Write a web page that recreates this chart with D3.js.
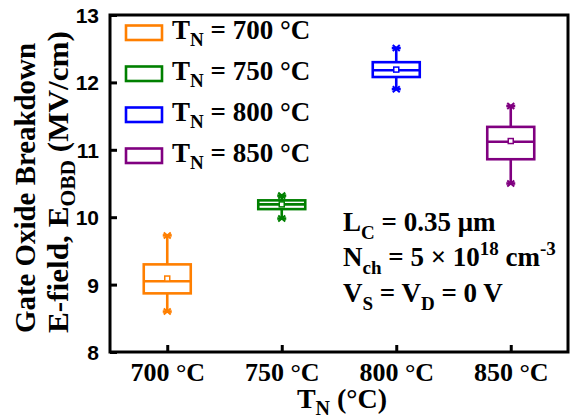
<!DOCTYPE html>
<html>
<head>
<meta charset="utf-8">
<script src="https://cdn.jsdelivr.net/npm/d3@7/dist/d3.min.js"></script>
<style>
  html, body { margin: 0; padding: 0; background: #fff; }
  svg { display: block; }
  .serif { font-family: "Liberation Serif", "Times New Roman", serif; font-weight: bold; fill: #000; }
  .sans { font-family: "Liberation Sans", Arial, sans-serif; font-weight: bold; fill: #000; }
</style>
</head>
<body>
<svg id="chart" width="572" height="418"></svg>
<script>
// Annealing temperatures (x categories)
const categories = ["700 °C", "750 °C", "800 °C", "850 °C"];
const legendTemps = ["700 °C", "750 °C", "800 °C", "850 °C"];
const colors = ["#ff7f00", "#008000", "#0000ff", "#800080"];

// Box statistics of gate-oxide breakdown field (MV/cm)
const whiskerLow  = [8.60, 9.98, 11.90, 10.50];
const q1          = [8.87, 10.12, 12.08, 10.86];
const median      = [9.05, 10.19, 12.18, 11.12];
const q3          = [9.30, 10.25, 12.30, 11.34];
const whiskerHigh = [9.73, 10.32, 12.51, 11.65];
const means       = [9.09, 10.19, 12.19, 11.13];

const yTicks = [8, 9, 10, 11, 12, 13];

const svg = d3.select("#chart");
const plot = { left: 110, right: 568, top: 15, bottom: 352 };

const x = d3.scalePoint().domain(categories).range([plot.left, plot.right]).padding(0.5);
const y = d3.scaleLinear().domain([8, 13]).range([plot.bottom, plot.top]);

const boxW = 47;
const capW = 9;

// Boxes
const data = categories.map((c, i) => ({
  c, color: colors[i], lo: whiskerLow[i], q1: q1[i], med: median[i], q3: q3[i], hi: whiskerHigh[i], mean: means[i]
}));

const g = svg.append("g");
data.forEach(d => {
  const cx = x(d.c);
  const s = g.append("g").attr("stroke", d.color).attr("fill", "none").attr("stroke-width", 2.6);
  // whiskers
  s.append("line").attr("x1", cx).attr("x2", cx).attr("y1", y(d.q3)).attr("y2", y(d.hi));
  s.append("line").attr("x1", cx).attr("x2", cx).attr("y1", y(d.q1)).attr("y2", y(d.lo));
  // whisker caps: short bar with a cross marker
  [d.lo, d.hi].forEach(v => {
    const yy = y(v);
    s.append("line").attr("x1", cx - capW / 2).attr("x2", cx + capW / 2).attr("y1", yy).attr("y2", yy).attr("stroke-width", 2.6);
    s.append("path")
      .attr("d", `M${cx - 3.5},${yy - 3}L${cx + 3.5},${yy + 3}M${cx - 3.5},${yy + 3}L${cx + 3.5},${yy - 3}`)
      .attr("stroke-width", 2);
  });
  // box
  s.append("rect")
    .attr("x", cx - boxW / 2).attr("width", boxW)
    .attr("y", y(d.q3)).attr("height", y(d.q1) - y(d.q3));
  // median
  s.append("line").attr("x1", cx - boxW / 2).attr("x2", cx + boxW / 2)
    .attr("y1", y(d.med)).attr("y2", y(d.med));
  // mean marker
  s.append("rect").attr("x", cx - 2.5).attr("y", y(d.mean) - 2.5).attr("width", 5).attr("height", 5)
    .attr("stroke-width", 1.5).attr("fill", "#fff");
});

// Frame
svg.append("rect")
  .attr("x", plot.left).attr("y", plot.top)
  .attr("width", plot.right - plot.left).attr("height", plot.bottom - plot.top)
  .attr("fill", "none").attr("stroke", "#000").attr("stroke-width", 3);

// Y axis (ticks pointing inward)
const yAxis = svg.append("g")
  .attr("transform", `translate(${plot.left},0)`)
  .call(d3.axisLeft(y).tickValues(yTicks).tickFormat(d3.format("d"))
    .tickSizeInner(-7).tickSizeOuter(0).tickPadding(11));
yAxis.select(".domain").remove();
yAxis.selectAll(".tick line").attr("stroke", "#000").attr("stroke-width", 3);
yAxis.selectAll(".tick text")
  .attr("class", "sans").attr("font-size", 21).attr("dy", "0.36em")
  .attr("fill", "#000");

// X axis (ticks pointing inward)
const xAxis = svg.append("g")
  .attr("transform", `translate(0,${plot.bottom})`)
  .call(d3.axisBottom(x).tickSizeInner(-7).tickSizeOuter(0).tickPadding(0));
xAxis.select(".domain").remove();
xAxis.selectAll(".tick line").attr("stroke", "#000").attr("stroke-width", 3);
xAxis.selectAll(".tick text")
  .attr("class", "serif").attr("font-size", 26).attr("y", 29).attr("dy", 0)
  .attr("fill", "#000");

// X axis title
const xt = svg.append("text").attr("class", "serif").attr("font-size", 28)
  .attr("x", 342).attr("y", 408).attr("text-anchor", "middle");
xt.append("tspan").text("T");
xt.append("tspan").attr("font-size", 20).attr("dy", 7).text("N");
xt.append("tspan").attr("dy", -7).text(" (°C)");

// Y axis title (two lines), condensed along the reading direction to a set length
function fitRotated(sel, cx, cy, len) {
  const w = sel.node().getComputedTextLength();
  sel.attr("transform", `translate(${cx},${cy}) rotate(-90) scale(${len / w},1)`);
}
const yt1 = svg.append("text").attr("class", "serif").attr("font-size", 29)
  .attr("text-anchor", "middle")
  .text("Gate Oxide Breakdown");
fitRotated(yt1, 35, 188, 290);

const yt2 = svg.append("text").attr("class", "serif").attr("font-size", 29)
  .attr("text-anchor", "middle");
yt2.append("tspan").text("E-field, E");
yt2.append("tspan").attr("font-size", 20).attr("dy", 7).text("OBD");
yt2.append("tspan").attr("dy", -7).text(" (MV/cm)");
fitRotated(yt2, 68, 182, 302);

// Legend
const legY0 = 33, legStep = 41;
legendTemps.forEach((t, i) => {
  const cy = legY0 + i * legStep;
  svg.append("rect")
    .attr("x", 126).attr("y", cy - 7.5).attr("width", 36).attr("height", 14.5)
    .attr("fill", "none").attr("stroke", colors[i]).attr("stroke-width", 2.6);
  const tx = svg.append("text").attr("class", "serif").attr("font-size", 27)
    .attr("x", 172).attr("y", cy + 6);
  tx.append("tspan").text("T");
  tx.append("tspan").attr("font-size", 19).attr("dy", 7).text("N");
  tx.append("tspan").attr("dy", -7).text(" = " + t);
});

// Device conditions
const a1 = svg.append("text").attr("class", "serif").attr("font-size", 27).attr("x", 343).attr("y", 231);
a1.append("tspan").text("L");
a1.append("tspan").attr("font-size", 19).attr("dy", 8).text("C");
a1.append("tspan").attr("dy", -8).text(" = 0.35 μm");

const a2 = svg.append("text").attr("class", "serif").attr("font-size", 27).attr("x", 343).attr("y", 266);
a2.append("tspan").text("N");
a2.append("tspan").attr("font-size", 19).attr("dy", 8).text("ch");
a2.append("tspan").attr("dy", -8).text(" = 5 × 10");
a2.append("tspan").attr("font-size", 19).attr("dy", -11).text("18");
a2.append("tspan").attr("dy", 11).text(" cm");
a2.append("tspan").attr("font-size", 19).attr("dy", -11).text("-3");

const a3 = svg.append("text").attr("class", "serif").attr("font-size", 27).attr("x", 343).attr("y", 302);
a3.append("tspan").text("V");
a3.append("tspan").attr("font-size", 19).attr("dy", 8).text("S");
a3.append("tspan").attr("dy", -8).text(" = V");
a3.append("tspan").attr("font-size", 19).attr("dy", 8).text("D");
a3.append("tspan").attr("dy", -8).text(" = 0 V");
</script>
</body>
</html>
